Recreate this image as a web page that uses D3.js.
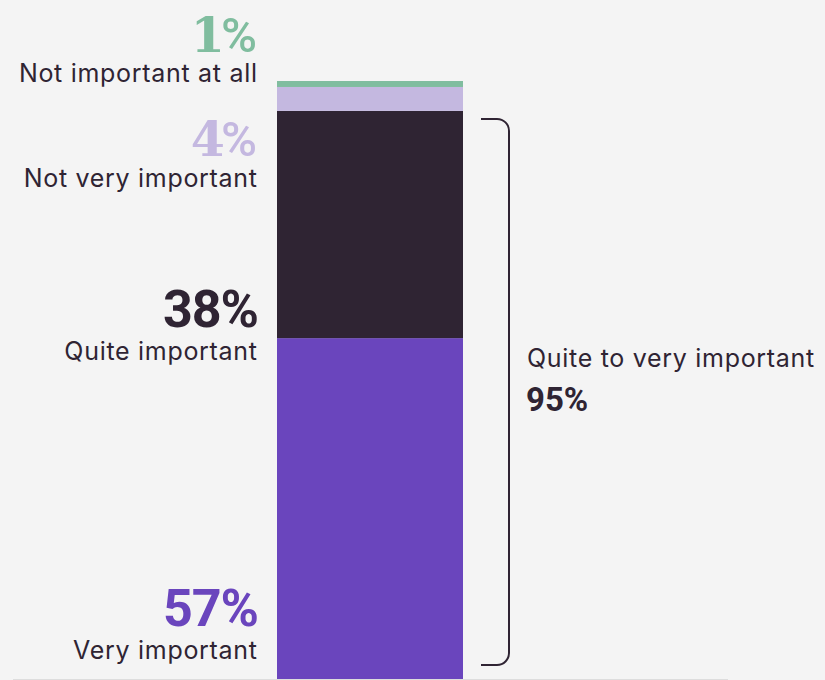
<!DOCTYPE html>
<html>
<head>
<meta charset="utf-8">
<script src="https://cdn.jsdelivr.net/npm/d3@7"></script>
<style>
  html, body { margin: 0; padding: 0; background: #f4f4f4; }
  svg { display: block; }
</style>
</head>
<body>
<svg id="chart" width="825" height="680"></svg>
<script>
// Survey answers, bottom of the stack first
const categories = ["Very important", "Quite important", "Not very important", "Not important at all"];
const values = [57, 38, 4, 1];
const valueLabels = ["57%", "38%", "4%", "1%"];
const colors = ["#6a45bd", "#2f2433", "#c4b8e0", "#80bd9f"];
const bracketLabel = "Quite to very important";
const bracketValue = 95;
const bracketValueLabel = "95%";

const ink = "#2f2433";
const sansFont = "Inter, 'Noto Sans', sans-serif";
const numFont = "Roboto, 'Liberation Sans', sans-serif";
const serifFont = "'DejaVu Serif', serif";

const svg = d3.select("#chart");

const x = d3.scaleBand().domain(["All respondents"]).range([277, 463]).padding(0);
const y = d3.scaleLinear().domain([0, 100]).range([679, 81]);

// Stack the single column
const row = { group: "All respondents" };
categories.forEach((c, i) => row[c] = values[i]);
const stacked = d3.stack().keys(categories)([row]);

// baseline
svg.append("line")
  .attr("x1", 13).attr("x2", 728)
  .attr("y1", y(0) + 0.5).attr("y2", y(0) + 0.5)
  .attr("stroke", "#dddddd").attr("stroke-width", 1);

svg.append("g").selectAll("rect")
  .data(stacked)
  .join("rect")
  .attr("x", x("All respondents"))
  .attr("width", x.bandwidth())
  .attr("y", d => y(d[0][1]))
  .attr("height", d => y(d[0][0]) - y(d[0][1]))
  .attr("fill", (d, i) => colors[i]);

// Label placement: value line baseline and name line baseline for each category
const labelX = 257;
const labelLayout = [
  { num: 626, name: 659, serif: false },
  { num: 327, name: 360, serif: false },
  { num: 156, name: 187, serif: true },
  { num: 52, name: 82, serif: true }
];

const labels = svg.append("g");
categories.forEach((c, i) => {
  const L = labelLayout[i];
  const t = labels.append("text")
    .attr("x", labelX).attr("y", L.num)
    .attr("text-anchor", "end")
    .attr("fill", colors[i])
    .attr("font-weight", 700)
    .attr("font-size", 52)
    .attr("font-family", numFont);
  if (L.serif) {
    const num = valueLabels[i].replace("%", "");
    t.append("tspan").attr("font-family", serifFont).attr("font-size", 49)
      .attr("letter-spacing", -4).text(num);
    t.append("tspan").attr("font-weight", 500).attr("font-size", 49).text("%");
  } else {
    t.attr("letter-spacing", -1).attr("x", labelX + 1).text(valueLabels[i]);
  }
  labels.append("text")
    .attr("x", labelX + 0.7).attr("y", L.name)
    .attr("text-anchor", "end")
    .attr("fill", ink)
    .attr("font-size", 25)
    .attr("font-family", sansFont)
    .attr("letter-spacing", 0.7)
    .text(c);
});

// Bracket spanning the two "important" answers
const bTop = y(bracketValue) + 8;
const bBot = y(0) - 14;
const bx0 = 481, bx1 = 509, r = 12;
svg.append("path")
  .attr("d", `M${bx0},${bTop} H${bx1 - r} A${r},${r} 0 0 1 ${bx1},${bTop + r} V${bBot - r} A${r},${r} 0 0 1 ${bx1 - r},${bBot} H${bx0}`)
  .attr("fill", "none")
  .attr("stroke", ink)
  .attr("stroke-width", 2);

svg.append("text")
  .attr("x", 527).attr("y", 367)
  .attr("fill", ink)
  .attr("font-size", 25)
  .attr("font-family", sansFont)
  .attr("letter-spacing", 0.7)
  .text(bracketLabel);

svg.append("text")
  .attr("x", 526).attr("y", 411)
  .attr("fill", ink)
  .attr("font-size", 33)
  .attr("font-weight", 700)
  .attr("font-family", numFont)
  .text(bracketValueLabel);
</script>
</body>
</html>
